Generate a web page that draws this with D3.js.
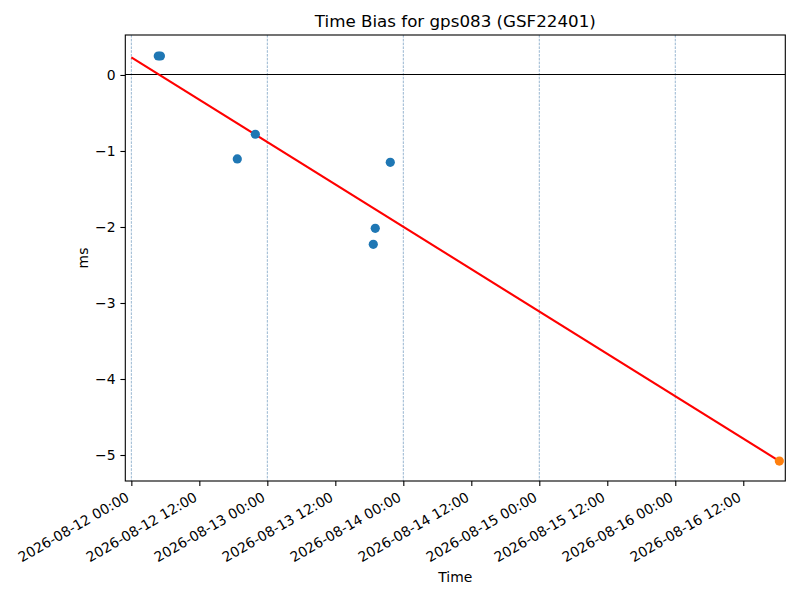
<!DOCTYPE html>
<html>
<head>
<meta charset="utf-8">
<script src="https://cdn.jsdelivr.net/npm/d3@7"></script>
<style>
  body { margin: 0; background: #fff; }
  text { font-family: "DejaVu Sans", sans-serif; fill: #000; }
</style>
</head>
<body>
<div id="chart"></div>
<script>
// measured points (blue) and the last point (orange)
let biasTimes = [
  "2026-08-12T04:45", "2026-08-12T05:08", "2026-08-12T18:42",
  "2026-08-12T21:53", "2026-08-13T18:42", "2026-08-13T19:03",
  "2026-08-13T21:42"
];
let biasValues = [0.25, 0.25, -1.105, -0.78, -2.228, -2.017, -1.149];

let lastTimes  = ["2026-08-16T18:22"];
let lastValues = [-5.08];

// fitted line
let fitTimes  = ["2026-08-12T00:00", "2026-08-16T18:22"];
let fitValues = [0.233, -5.08];

let xTickTimes = [
  "2026-08-12T00:00", "2026-08-12T12:00", "2026-08-13T00:00",
  "2026-08-13T12:00", "2026-08-14T00:00", "2026-08-14T12:00",
  "2026-08-15T00:00", "2026-08-15T12:00", "2026-08-16T00:00",
  "2026-08-16T12:00"
];
let gridTimes = [
  "2026-08-12T00:00", "2026-08-13T00:00", "2026-08-14T00:00",
  "2026-08-15T00:00", "2026-08-16T00:00"
];
let yTickValues = [0, -1, -2, -3, -4, -5];

let xDomain = ["2026-08-11T22:56", "2026-08-16T19:25"];
let yDomain = [-5.342, 0.526];

let margin = {
  top:    35,
  right:  14.7,
  bottom: 119,
  left:   125.3
};

let exteriorWidth  = 800,
    exteriorHeight = 600;

let interiorWidth  = exteriorWidth - margin.left - margin.right,
    interiorHeight = exteriorHeight - margin.top - margin.bottom;

let parseTime = d3.timeParse("%Y-%m-%dT%H:%M");
let formatTick = d3.timeFormat("%Y-%m-%d %H:%M");

let fontSize = 13.9;

let svg =
  d3.select("#chart")
    .append("svg")
      .attr("width", exteriorWidth)
      .attr("height", exteriorHeight);

let g =
  svg.append("g")
    .attr("transform", translate(margin.left, margin.top));

let x =
  d3.scaleTime()
    .domain(xDomain.map(parseTime))
    .range([0, interiorWidth]);

let y =
  d3.scaleLinear()
    .domain(yDomain)
    .range([interiorHeight, 0]);

// dashed day grid
g.selectAll(".grid")
    .data(gridTimes.map(parseTime))
  .enter().append("line")
    .attr("class", "grid")
    .attr("x1", function(d) { return x(d); })
    .attr("x2", function(d) { return x(d); })
    .attr("y1", 0)
    .attr("y2", interiorHeight)
    .attr("stroke", "#6b96bd")
    .attr("stroke-width", 0.7)
    .attr("stroke-dasharray", "2.6,1.2");

// zero line
g.append("line")
    .attr("x1", 0)
    .attr("x2", interiorWidth)
    .attr("y1", y(0))
    .attr("y2", y(0))
    .attr("stroke", "#000")
    .attr("stroke-width", 1)
    .attr("shape-rendering", "crispEdges");

// fit line
let fitData = fitTimes.map(function(t, i) {
  return {t: parseTime(t), v: fitValues[i]};
});

g.append("path")
    .datum(fitData)
    .attr("fill", "none")
    .attr("stroke", "red")
    .attr("stroke-width", 2.1)
    .attr("d", d3.line()
      .x(function(d) { return x(d.t); })
      .y(function(d) { return y(d.v); }));

// points
g.selectAll(".bias")
    .data(biasTimes.map(function(t, i) { return {t: parseTime(t), v: biasValues[i]}; }))
  .enter().append("circle")
    .attr("class", "bias")
    .attr("cx", function(d) { return x(d.t); })
    .attr("cy", function(d) { return y(d.v); })
    .attr("r", 4.6)
    .attr("fill", "#1f77b4");

g.selectAll(".last")
    .data(lastTimes.map(function(t, i) { return {t: parseTime(t), v: lastValues[i]}; }))
  .enter().append("circle")
    .attr("class", "last")
    .attr("cx", function(d) { return x(d.t); })
    .attr("cy", function(d) { return y(d.v); })
    .attr("r", 4.6)
    .attr("fill", "#ff7f0e");

// x axis
let xAxis =
  g.append("g")
    .attr("transform", translate(0, interiorHeight))
    .call(d3.axisBottom(x)
      .tickValues(xTickTimes.map(parseTime))
      .tickFormat(formatTick)
      .tickSizeInner(4.9)
      .tickSizeOuter(0)
      .tickPadding(4.9));

xAxis.select(".domain").remove();
xAxis.selectAll(".tick line").attr("stroke-width", 1.1);
xAxis.selectAll(".tick text")
    .style("font-size", fontSize + "px")
    .attr("text-anchor", "end")
    .attr("x", 0)
    .attr("y", 0)
    .attr("dy", null)
    .attr("transform", "translate(-1.6, 19) rotate(-30)");

// y axis
let yAxis =
  g.append("g")
    .call(d3.axisLeft(y)
      .tickValues(yTickValues)
      .tickFormat(d3.format("d"))
      .tickSizeInner(4.9)
      .tickSizeOuter(0)
      .tickPadding(4.9));

yAxis.select(".domain").remove();
yAxis.selectAll(".tick line").attr("stroke-width", 1.1);
yAxis.selectAll(".tick text").style("font-size", fontSize + "px");

// frame
g.append("rect")
    .attr("width", interiorWidth)
    .attr("height", interiorHeight)
    .attr("fill", "none")
    .attr("stroke", "#000")
    .attr("stroke-width", 1.1);

// labels
svg.append("text")
    .attr("x", margin.left + interiorWidth / 2)
    .attr("y", 27)
    .attr("text-anchor", "middle")
    .style("font-size", "16.7px")
    .text("Time Bias for gps083 (GSF22401)");

svg.append("text")
    .attr("x", margin.left + interiorWidth / 2)
    .attr("y", 582)
    .attr("text-anchor", "middle")
    .style("font-size", fontSize + "px")
    .text("Time");

svg.append("text")
    .attr("transform", translate(88, margin.top + interiorHeight / 2) + " rotate(-90)")
    .attr("text-anchor", "middle")
    .style("font-size", fontSize + "px")
    .text("ms");

function translate(x, y=0) {
  return "translate({x}, {y})"
          .replace("{x}", x)
          .replace("{y}", y);
}
</script>
</body>
</html>
